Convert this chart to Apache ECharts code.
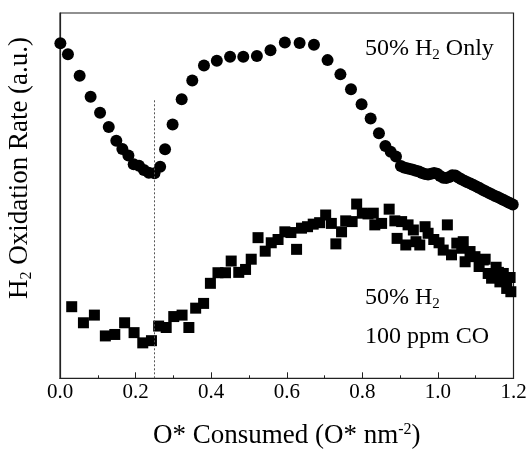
<!DOCTYPE html>
<html>
<head>
<meta charset="utf-8">
<script src="https://cdn.jsdelivr.net/npm/echarts@6/dist/echarts.min.js"></script>
<style>html,body{margin:0;padding:0;background:#fff}#c{width:530px;height:449px}</style>
</head>
<body>
<div id="c"></div>
<script>
// 50% H2 only (circles)
const h2OnlyX = [0.001,0.021,0.052,0.081,0.106,0.129,0.149,0.165,0.181,0.195,0.209,0.222,0.235,0.250,0.265,0.278,0.298,0.322,0.350,0.381,0.415,0.450,0.485,0.521,0.557,0.595,0.634,0.672,0.708,0.742,0.770,0.798,0.822,0.844,0.861,0.875,0.889,0.902,
  0.910,0.918,0.926,0.934,0.942,0.950,0.958,0.966,0.974,0.982,0.990,0.998,1.006,1.014,1.022,1.030,1.038,1.046,1.054,1.062,1.070,1.078,1.086,1.094,1.102,1.110,1.118,1.126,1.134,1.142,1.150,1.158,1.166,1.174,1.182,1.190,1.198];
const h2OnlyY = [0.917,0.887,0.828,0.771,0.727,0.688,0.650,0.628,0.610,0.586,0.582,0.570,0.563,0.561,0.579,0.627,0.695,0.764,0.815,0.856,0.869,0.880,0.880,0.882,0.898,0.919,0.918,0.913,0.871,0.832,0.791,0.750,0.711,0.671,0.636,0.620,0.607,0.581,
  0.577,0.575,0.573,0.571,0.568,0.566,0.562,0.559,0.558,0.560,0.562,0.560,0.554,0.549,0.548,0.551,0.556,0.555,0.550,0.545,0.541,0.537,0.533,0.529,0.525,0.521,0.516,0.512,0.508,0.504,0.500,0.496,0.492,0.488,0.484,0.480,0.476];
// 50% H2 + 100 ppm CO (squares)
const h2CoX = [0.031,0.062,0.091,0.120,0.145,0.171,0.196,0.219,0.242,0.261,0.281,0.301,0.323,0.341,0.359,0.380,0.398,0.418,0.438,0.453,0.473,0.491,0.506,0.524,0.543,0.559,0.577,0.595,0.611,0.626,0.639,0.655,0.670,0.687,0.703,0.718,0.730,0.745,0.756,0.773,0.785,0.800,0.815,0.829,0.833,0.851,0.871,0.886,0.892,0.904,0.915,0.921,0.935,0.942,0.952,0.966,0.974,0.989,1.003,1.014,1.025,1.036,1.050,1.063,1.067,1.072,1.085,1.098,1.109,1.120,1.125,1.133,1.142,1.154,1.160,1.164,1.173,1.178,1.182,1.191,1.193];
const h2CoY = [0.196,0.152,0.173,0.116,0.120,0.152,0.125,0.097,0.103,0.143,0.139,0.169,0.173,0.139,0.192,0.205,0.260,0.289,0.289,0.321,0.290,0.298,0.326,0.385,0.348,0.371,0.380,0.401,0.399,0.353,0.411,0.415,0.422,0.426,0.447,0.424,0.368,0.401,0.431,0.429,0.477,0.452,0.450,0.452,0.420,0.424,0.463,0.431,0.383,0.429,0.365,0.420,0.406,0.374,0.365,0.415,0.397,0.380,0.371,0.351,0.420,0.338,0.370,0.356,0.374,0.319,0.347,0.333,0.306,0.324,0.326,0.287,0.274,0.304,0.290,0.264,0.287,0.270,0.246,0.276,0.237];
const xTicks = ['0.0','0.2','0.4','0.6','0.8','1.0','1.2'];
const markerX = 0.25;

const FONT = 'Liberation Serif';
const chart = echarts.init(document.getElementById('c'), null, {renderer: 'canvas'});
const zip = (a, b) => a.map((v, i) => [v, b[i]]);

chart.setOption({
  animation: false,
  backgroundColor: '#fff',
  grid: {left: 60, right: 16.5, top: 13, bottom: 70.7, outerBoundsMode: 'none', containLabel: false,
    show: true, borderColor: '#222', borderWidth: 1.2, backgroundColor: 'transparent'},
  xAxis: {
    type: 'value', min: 0, max: 1.2, interval: 0.2,
    axisLine: {show: true, lineStyle: {color: '#222', width: 1.2}},
    axisTick: {show: true, inside: true, length: 6, lineStyle: {color: '#222', width: 1}},
    minorTick: {show: true, splitNumber: 2, length: 3, lineStyle: {color: '#222', width: 1}},
    splitLine: {show: false},
    axisLabel: {
      margin: 4, color: '#000', fontFamily: FONT, fontSize: 21,
      formatter: (v) => xTicks[Math.round(v / 0.2)]
    },
    name: '{m|O* Consumed (O* nm}{sup|-2}{m|)}',
    nameLocation: 'middle', nameGap: 43,
    nameTextStyle: {
      rich: {
        m: {fontFamily: FONT, fontSize: 27, color: '#000', lineHeight: 30},
        sup: {fontFamily: FONT, fontSize: 16, color: '#000', lineHeight: 14, verticalAlign: 'top'}
      }
    }
  },
  yAxis: {
    type: 'value', min: 0, max: 1,
    axisLine: {show: true, lineStyle: {color: '#222', width: 1.2}},
    axisTick: {show: false}, axisLabel: {show: false}, splitLine: {show: false}
  },
  series: [
    {
      name: '50% H2 Only', type: 'scatter', symbol: 'circle', symbolSize: 12,
      itemStyle: {color: '#000', opacity: 1},
      data: zip(h2OnlyX, h2OnlyY),
      markLine: {
        silent: true, symbol: 'none', label: {show: false},
        lineStyle: {color: '#555', type: [2, 2], width: 1},
        data: [[{coord: [markerX, 0]}, {coord: [markerX, 0.762]}]]
      }
    },
    {
      name: '50% H2 100 ppm CO', type: 'scatter', symbol: 'rect', symbolSize: 11,
      itemStyle: {color: '#000', opacity: 1},
      data: zip(h2CoX, h2CoY)
    }
  ],
  graphic: [
    {
      type: 'text', x: 20, y: 168, rotation: Math.PI / 2,
      style: {
        text: '{m|H}{sub|2}{m| Oxidation Rate (a.u.)}',
        align: 'center', verticalAlign: 'middle',
        rich: {
          m: {fontFamily: FONT, fontSize: 27, fill: '#000', lineHeight: 30},
          sub: {fontFamily: FONT, fontSize: 16, fill: '#000', lineHeight: 15, verticalAlign: 'bottom'}
        }
      }
    },
    {
      type: 'text', left: 365, top: 37,
      style: {
        text: '{m|50% H}{sub|2}{m| Only}',
        rich: {
          m: {fontFamily: FONT, fontSize: 24, fill: '#000', lineHeight: 28},
          sub: {fontFamily: FONT, fontSize: 15, fill: '#000', lineHeight: 14, verticalAlign: 'bottom'}
        }
      }
    },
    {
      type: 'text', left: 365, top: 286,
      style: {
        text: '{m|50% H}{sub|2}',
        rich: {
          m: {fontFamily: FONT, fontSize: 24, fill: '#000', lineHeight: 28},
          sub: {fontFamily: FONT, fontSize: 15, fill: '#000', lineHeight: 14, verticalAlign: 'bottom'}
        }
      }
    },
    {
      type: 'text', left: 365, top: 323,
      style: {text: '100 ppm CO', fontFamily: FONT, fontSize: 24, fill: '#000', lineHeight: 28}
    }
  ]
});
</script>
</body>
</html>
